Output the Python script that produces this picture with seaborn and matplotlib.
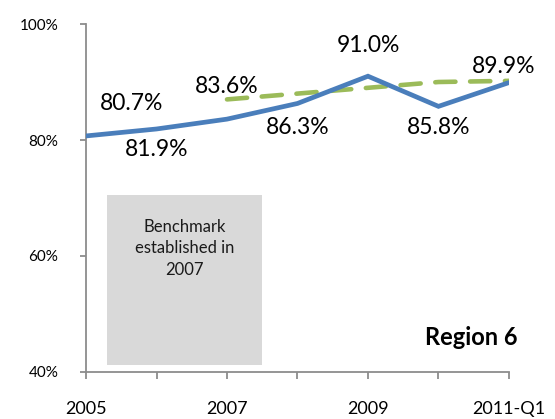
import numpy as np
import pandas as pd
import matplotlib
matplotlib.use("Agg")
import matplotlib.pyplot as plt
import seaborn as sns

# ---- data ----
categories = ["2005", "2006", "2007", "2008", "2009", "2010", "2011-Q1"]
region_values = [80.7, 81.9, 83.6, 86.3, 91.0, 85.8, 89.9]
benchmark_values = [np.nan, np.nan, 87.0, 88.0, 89.0, 90.0, 90.2]
tick_labels = ["2005", "", "2007", "", "2009", "", "2011-Q1"]
y_ticks = [40, 60, 80, 100]
y_tick_labels = ["40%", "60%", "80%", "100%"]
region_name = "Region 6"
box_text = "Benchmark\nestablished in\n2007"

sns.set_theme(style="white")
plt.rcParams["font.family"] = ["Lato", "DejaVu Sans"]

fig = plt.figure(figsize=(5.55, 4.19), dpi=100)
ax = fig.add_axes([0.155, 0.1122, 0.762, 0.8305])

pos = np.arange(len(categories))
df = pd.DataFrame({"pos": pos, "region": region_values, "bench": benchmark_values})

sns.lineplot(data=df, x="pos", y="region", ax=ax, color="#4A7EBB", linewidth=3.4,
             solid_joinstyle="miter", zorder=3)
bench = df.dropna()
ln = sns.lineplot(data=bench, x="pos", y="bench", ax=ax, color="#9BBB59", linewidth=3.3, zorder=2)
ln.lines[-1].set_dashes([4.4, 3.2])
ln.lines[-1].set_dash_capstyle("round")

# grey annotation box
ax.add_patch(plt.Rectangle((0.30, 41.2), 2.2, 29.3, facecolor="#D9D9D9", edgecolor="none", zorder=1))
ax.text(1.40, 61.3, box_text, ha="center", va="center", fontsize=12, color="#1a1a1a",
        linespacing=1.4, zorder=2)

# data labels
label_offsets = [(0.65, 86.3), (1.0, 78.4), (2.0, 89.3), (3.0, 82.2), (4.0, 96.3), (5.0, 82.2), (5.92, 92.6)]
for (lx, ly), v in zip(label_offsets, region_values):
    ax.text(lx, ly, f"{v:.1f}%", ha="center", va="center", fontsize=16.5, color="black", zorder=4)

ax.text(5.46, 45.9, region_name, ha="center", va="center", fontsize=17, fontweight="bold", color="black")

ax.set_xlim(0, 6)
ax.set_ylim(40, 100)
ax.set_xticks(pos)
ax.set_xticklabels(tick_labels)
ax.set_yticks(y_ticks)
ax.set_yticklabels(y_tick_labels)
ax.set_xlabel("")
ax.set_ylabel("")

for s in ["top", "right"]:
    ax.spines[s].set_visible(False)
for s in ["left", "bottom"]:
    ax.spines[s].set_color("#8C8C8C")
    ax.spines[s].set_linewidth(1.3)

ax.tick_params(axis="x", direction="out", length=5, width=1.3, color="#8C8C8C", pad=16,
               labelsize=13, labelcolor="black", bottom=True)
ax.tick_params(axis="y", direction="out", length=4, width=1.3, color="#8C8C8C", pad=16,
               labelsize=11, labelcolor="black", left=True)
ax.grid(False)

fig.savefig("out.png", dpi=100)
